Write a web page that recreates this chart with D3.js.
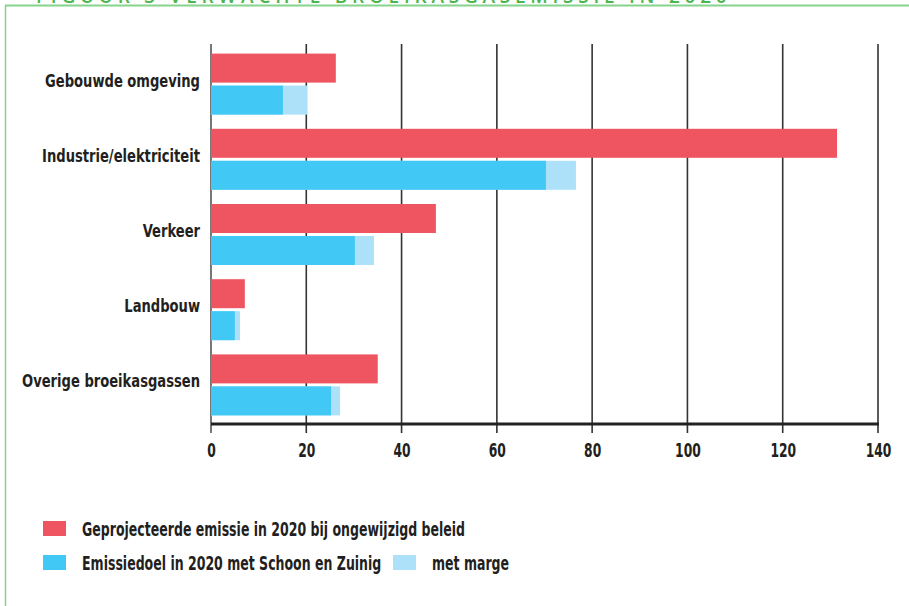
<!DOCTYPE html>
<html>
<head>
<meta charset="utf-8">
<style>
  body {margin: 0; background: #fff; font-family: "DejaVu Sans Condensed", sans-serif;}
</style>
<script src="https://d3js.org/d3.v7.min.js"></script>
</head>
<body>
<div id="chart"></div>
<script>

const categories = ['Gebouwde omgeving', 'Industrie/elektriciteit', 'Verkeer', 'Landbouw', 'Overige broeikasgassen']
const projected = [26.2, 131.4, 47.2, 7.1, 35.0]   // rood
const target = [15.1, 70.3, 30.2, 5.0, 25.2]       // blauw
const withMargin = [20.2, 76.6, 34.2, 6.1, 27.1]   // lichtblauw
const xTicks = [0, 20, 40, 60, 80, 100, 120, 140]
const legendItems = [
  'Geprojecteerde emissie in 2020 bij ongewijzigd beleid',
  'Emissiedoel in 2020 met Schoon en Zuinig',
  'met marge'
]
const title = 'FIGUUR 3 VERWACHTE BROEIKASGASEMISSIE IN 2020'

const width = 909
const height = 606

const colors = {red: '#ef5461', blue: '#42c8f4', light: '#ade1f9', green: '#4cb64e'}

// no condensed Myriad here, so squeeze DejaVu Condensed horizontally
const squeeze = 0.81

const svg = d3.select('#chart').append('svg')
  .attr('width', width)
  .attr('height', height)

// frame + title (title falls off the top of the picture, like the scan)
svg.append('line')
  .attr('x1', 5).attr('x2', width).attr('y1', 5.5).attr('y2', 5.5)
  .style('stroke', '#86d38e').style('stroke-width', 2)
svg.append('line')
  .attr('x1', 5.5).attr('x2', 5.5).attr('y1', 5).attr('y2', height)
  .style('stroke', '#86d38e').style('stroke-width', 1.5)
svg.append('text')
  .attr('x', 36).attr('y', 3)
  .style('font-family', '"Open Sans", sans-serif')
  .style('font-weight', 600)
  .style('font-size', '19px')
  .style('letter-spacing', '4.75px')
  .style('fill', colors.green)
  .text(title)

const x = d3.scaleLinear().domain([0, 140]).range([211, 878])
const y = d3.scaleBand().domain(categories).range([46.5, 422.5])

const barH = 29
const gap = 3
const off = (y.bandwidth() - (2 * barH + gap)) / 2

// gridlines
svg.append('g')
  .selectAll('line')
  .data(xTicks)
  .enter().append('line')
  .attr('x1', d => x(d)).attr('x2', d => x(d))
  .attr('y1', 44).attr('y2', 433)
  .style('stroke', d => d === 0 ? '#555' : '#333')
  .style('stroke-width', 1.6)

const rows = svg.append('g')
  .selectAll('g')
  .data(categories)
  .enter().append('g')
  .attr('transform', d => 'translate(0,' + (y(d) + off) + ')')

rows.append('rect')
  .attr('x', x(0))
  .attr('y', 0)
  .attr('width', (d, i) => x(projected[i]) - x(0))
  .attr('height', barH)
  .style('fill', colors.red)

rows.append('rect')
  .attr('x', x(0))
  .attr('y', barH + gap)
  .attr('width', (d, i) => x(withMargin[i]) - x(0))
  .attr('height', barH)
  .style('fill', colors.light)

rows.append('rect')
  .attr('x', x(0))
  .attr('y', barH + gap)
  .attr('width', (d, i) => x(target[i]) - x(0))
  .attr('height', barH)
  .style('fill', colors.blue)

rows.append('text')
  .attr('transform', 'translate(200,' + (barH + gap / 2 - 4) + ') scale(' + squeeze + ',1)')
  .attr('dy', '0.36em')
  .attr('text-anchor', 'end')
  .style('font-weight', 'bold')
  .style('font-size', '18px')
  .style('fill', '#231f20')
  .text(d => d)

// x axis
const xAxis = svg.append('g')
  .attr('transform', 'translate(0,424)')
  .call(d3.axisBottom(x).tickValues(xTicks).tickSize(0).tickPadding(20))
xAxis.select('.domain')
  .attr('d', 'M' + x(0) + ',0H' + (x(140) + 1))
  .style('stroke', '#222').style('stroke-width', 3)
xAxis.selectAll('text')
  .attr('transform', 'scale(0.72,1)')
  .style('font-family', '"DejaVu Sans Condensed", sans-serif')
  .style('font-weight', 'bold')
  .style('font-size', '19px')
  .style('fill', '#231f20')

// legend
const legendRows = [
  {label: legendItems[0], color: colors.red, x: 43, y: 521},
  {label: legendItems[1], color: colors.blue, x: 43, y: 555},
  {label: legendItems[2], color: colors.light, x: 393, y: 555}
]

const legend = svg.append('g')

legend.selectAll('rect')
  .data(legendRows)
  .enter().append('rect')
  .attr('x', d => d.x).attr('y', d => d.y)
  .attr('width', 23).attr('height', 15)
  .style('fill', d => d.color)

legend.selectAll('text')
  .data(legendRows)
  .enter().append('text')
  .attr('transform', d => 'translate(' + (d.x + 39) + ',' + (d.y + 15) + ') scale(0.715,1)')
  .style('font-weight', 'bold')
  .style('font-size', '19.5px')
  .style('fill', '#231f20')
  .text(d => d.label)

</script>
</body>
</html>
